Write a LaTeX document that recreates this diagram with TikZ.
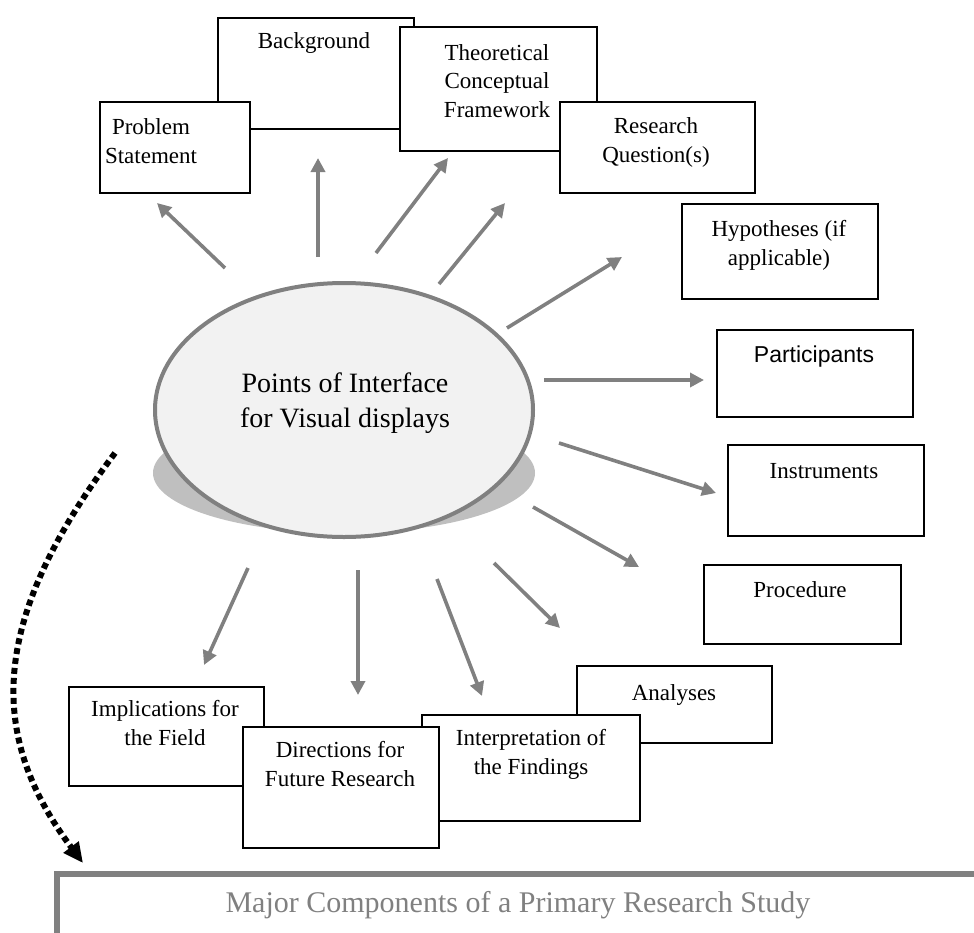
\documentclass[tikz,border=0pt]{standalone}
\usepackage{fontspec}
\setmainfont{Liberation Serif}
\newfontfamily\arialfont{Liberation Sans}
\usetikzlibrary{arrows.meta,shapes.geometric}
\definecolor{rayc}{HTML}{808080}
\definecolor{ellfill}{HTML}{F2F2F2}
\definecolor{shadowc}{HTML}{BFBFBF}
\begin{document}
\begin{tikzpicture}[x=1pt,y=-1pt,
  box/.style={draw=black,line width=1.8pt,fill=white,rectangle,inner sep=0pt,anchor=north west},
  lbl/.style={font=\fontsize{23}{28.5}\selectfont,align=center,anchor=base,inner sep=0pt},
  ray/.style={draw=rayc,line width=3.6pt,-{Triangle[length=14pt,width=14pt]}},
]
\useasboundingbox (0,0) rectangle (974,932);
\clip (0,0) rectangle (974,932);

% central ellipse with shadow
\node[ellipse,fill=shadowc,minimum width=382pt,minimum height=120pt,inner sep=0pt] (shadow) at (344,473) {};
\node[ellipse,draw=rayc,line width=4pt,fill=ellfill,minimum width=378pt,minimum height=254pt,inner sep=0pt] (ell) at (344,410) {};
\node[font=\fontsize{28}{34.5}\selectfont,align=center,anchor=base,inner sep=0pt] (elltext) at (345,427) {Points of Interface\\for Visual displays};

% boxes (multi-line labels are anchored at the baseline of their last line)
\node[box,minimum width=196pt,minimum height=111pt] (bg) at (217,17) {};
\node[lbl] (bgt) at (314,48) {Background};
\node[box,minimum width=150pt,minimum height=91pt] (ps) at (99,101) {};
\node[lbl] (pst) at (151,163) {Problem\\Statement};
\node[box,minimum width=197pt,minimum height=124pt] (th) at (399,26) {};
\node[lbl] (tht) at (497,117) {Theoretical\\Conceptual\\Framework};
\node[box,minimum width=195pt,minimum height=91pt] (rq) at (559,101) {};
\node[lbl] (rqt) at (656,162) {Research\\Question(s)};
\node[box,minimum width=196pt,minimum height=95pt] (hy) at (681,203) {};
\node[lbl] (hyt) at (779,265) {Hypotheses (if\\applicable)};
\node[box,minimum width=196pt,minimum height=87pt] (pa) at (716,329) {};
\node[lbl,font=\arialfont\fontsize{23}{28.5}\selectfont] (pat) at (814,362) {Participants};
\node[box,minimum width=196pt,minimum height=91pt] (in) at (727,444) {};
\node[lbl] (int) at (824,478) {Instruments};
\node[box,minimum width=197pt,minimum height=79pt] (pr) at (703,564) {};
\node[lbl] (prt) at (800,597) {Procedure};
\node[box,minimum width=195pt,minimum height=77pt] (an) at (576,665) {};
\node[lbl] (ant) at (674,700) {Analyses};
\node[box,minimum width=218pt,minimum height=106pt] (it) at (421,714) {};
\node[lbl] (itt) at (531,774) {Interpretation of\\the Findings};
\node[box,minimum width=195pt,minimum height=99pt] (im) at (68,686) {};
\node[lbl] (imt) at (165,745) {Implications for\\the Field};
\node[box,minimum width=196pt,minimum height=121pt] (di) at (242,726) {};
\node[lbl] (dit) at (340,786) {Directions for\\Future Research};

% ray end points
\coordinate (s1) at (225,268);  \coordinate (e1) at (157,203);
\coordinate (s2) at (318,257);  \coordinate (e2) at (318,158);
\coordinate (s3) at (376,253);  \coordinate (e3) at (448,158);
\coordinate (s4) at (439,284);  \coordinate (e4) at (505,203);
\coordinate (s5) at (507,328);  \coordinate (e5) at (622,257);
\coordinate (s6) at (544,380);  \coordinate (e6) at (704,380);
\coordinate (s7) at (559,443);  \coordinate (e7) at (716,493);
\coordinate (s8) at (533,507);  \coordinate (e8) at (639,567);
\coordinate (s9) at (494,563);  \coordinate (e9) at (560,628);
\coordinate (s10) at (437,579); \coordinate (e10) at (482,696);
\coordinate (s11) at (358,570); \coordinate (e11) at (358,695);
\coordinate (s12) at (248,568); \coordinate (e12) at (204,665);
\foreach \i in {1,...,12} { \draw[ray] (s\i) -- (e\i); }

% bottom bar
\node[draw=rayc,line width=5.5pt,rectangle,inner sep=0pt,anchor=north west,minimum width=960pt,minimum height=62pt] (bar) at (54,871) {};
\node[font=\fontsize{30}{36}\selectfont,text=rayc,anchor=base,inner sep=0pt] (bart) at (518,912) {Major Components of a Primary Research Study};

% dotted curved arrow
\coordinate (d1) at (115,453);
\coordinate (d2) at (83,863);
\draw[black,line width=6pt,dash pattern=on 6pt off 4pt,-{Triangle[length=20pt,width=18pt]}] (d1) .. controls (-11,621) and (-13,735) .. (d2);
\end{tikzpicture}
\end{document}
